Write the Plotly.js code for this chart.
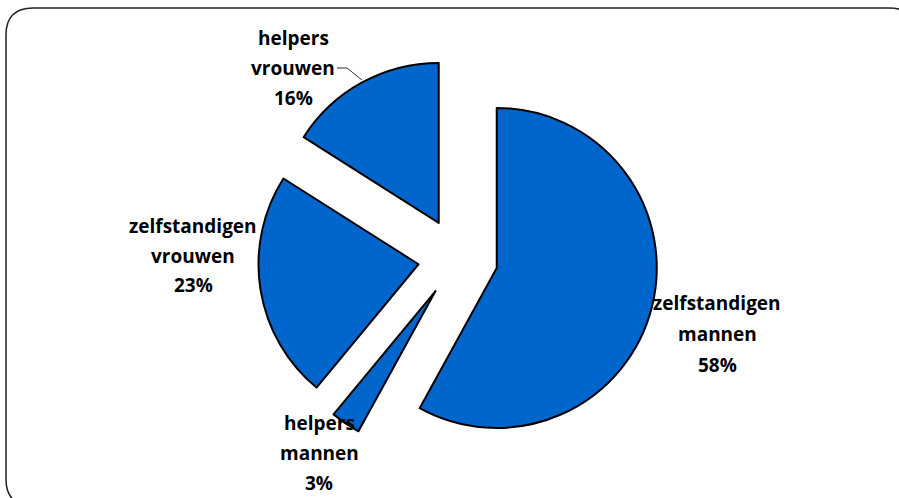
<!DOCTYPE html>
<html>
<head>
<meta charset="utf-8">
<script src="https://cdn.plot.ly/plotly-3.0.1.min.js"></script>
<style>html,body{margin:0;padding:0;background:#fff;}#chart{width:899px;height:498px;}</style>
</head>
<body>
<div id="chart"></div>
<script>
// Data
var categories = ['zelfstandigen mannen', 'helpers mannen', 'zelfstandigen vrouwen', 'helpers vrouwen'];
var values = [58, 3, 23, 16];
var percentLabels = ['58%', '3%', '23%', '16%'];

var W = 899, H = 498;
function px(x) { return x / W; }
function py(y) { return 1 - y / H; }

// label anchor positions (pixels) — layout only
var labelPos = [
  {x: 717, y: [303, 334, 365]},
  {x: 319, y: [423, 453, 483]},
  {x: 193, y: [226, 256, 285]},
  {x: 293, y: [38, 68, 98]}
];

var annotations = [];
categories.forEach(function (c, i) {
  var lines = c.split(' ').concat([percentLabels[i]]);
  lines.forEach(function (t, j) {
    annotations.push({
      text: t, x: px(labelPos[i].x), y: py(labelPos[i].y[j]),
      xref: 'paper', yref: 'paper', xanchor: 'center', yanchor: 'middle',
      showarrow: false,
      font: {family: 'Open Sans, Liberation Sans, sans-serif', size: 19, color: '#000', weight: 'bold'}
    });
  });
});

function P(x, y) { return px(x).toFixed(5) + ',' + py(y).toFixed(5); }
var x0 = 6, y0 = 8, x1 = 916, y1 = 506, r = 27;
var framePath = 'M' + P(x0, y0 + r) + ' Q' + P(x0, y0) + ' ' + P(x0 + r, y0) +
  ' L' + P(x1 - r, y0) + ' Q' + P(x1, y0) + ' ' + P(x1, y0 + r) +
  ' L' + P(x1, y1 - r) + ' Q' + P(x1, y1) + ' ' + P(x1 - r, y1) +
  ' L' + P(x0 + r, y1) + ' Q' + P(x0, y1) + ' ' + P(x0, y1 - r) + ' Z';

var leaderPath = 'M' + P(337, 68) + ' L' + P(347, 68) + ' L' + P(362, 80);

var trace = {
  type: 'pie',
  labels: categories,
  values: values,
  sort: false,
  direction: 'clockwise',
  rotation: 0,
  pull: [0.25, 0.25, 0.25, 0.25],
  textinfo: 'none',
  hoverinfo: 'label+percent',
  marker: {colors: ['#0066CC', '#0066CC', '#0066CC', '#0066CC'], line: {color: '#000', width: 2}},
  domain: {x: [px(258), px(658)], y: [py(458), py(58)]}
};

var layout = {
  width: W, height: H,
  margin: {l: 0, r: 0, t: 0, b: 0},
  showlegend: false,
  paper_bgcolor: '#fff',
  annotations: annotations,
  shapes: [
    {type: 'path', path: framePath, xref: 'paper', yref: 'paper', line: {color: '#222', width: 1.5}, layer: 'below'},
    {type: 'path', path: leaderPath, xref: 'paper', yref: 'paper', line: {color: '#333', width: 1}}
  ]
};

Plotly.newPlot('chart', [trace], layout, {displayModeBar: false, staticPlot: true});
</script>
</body>
</html>
